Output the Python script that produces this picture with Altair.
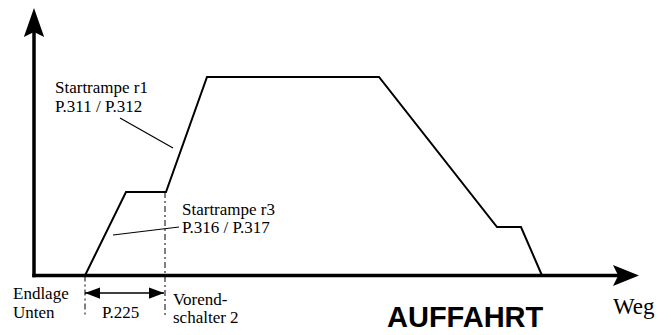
import altair as alt
import pandas as pd

# ---- data (units: path along x, speed along y; origin at the axes' corner) ----
profile_x = [51, 92, 132, 173, 345, 463, 487, 508]
profile_y = [0, 83.5, 83.5, 198.5, 198.5, 48.5, 48.5, 0]

axis_x1 = [-1.75, 0]
axis_y1 = [0, -1.75]
axis_x2 = [590, 0]
axis_y2 = [0, 245]

dash_x = [51, 131]
dash_top = [0, 83.5]
dash_bottom = [-39.5, -39.5]

leader_x1 = [86, 79]
leader_y1 = [157.5, 40.5]
leader_x2 = [139, 145]
leader_y2 = [127.5, 48.5]

dim_x1 = [51]
dim_x2 = [130]
dim_y = [-17.5]

serif_labels = ["Startrampe r1", "P.311 / P.312", "Startrampe r3", "P.316 / P.317",
                "Endlage", "Unten", "P.225", "Vorend-", "schalter 2"]
serif_x = [21, 21, 148, 148, -21, -21, 68, 139, 139]
serif_y = [182.5, 163.5, 60.5, 42.5, -23.5, -42.5, -42.5, -29.5, -47.5]

weg_label = ["Weg"]
weg_x = [579]
weg_y = [-38.5]

title_label = ["AUFFAHRT"]
title_x = [353]
title_y = [-51.5]

# arrowheads: axis arrows and dimension arrows
ah_x = [0, 592]
ah_y = [253, 0]
dim_head_x = [58.5, 122.5]
dim_head_y = [-17.5, -17.5]

SERIF = "'Times New Roman', 'Liberation Serif', serif"

# ---- scales ----
xs = alt.Scale(domain=[-26, 629], nice=False, zero=False)
ys = alt.Scale(domain=[-59.5, 267.5], nice=False, zero=False)


def X(f="x"):
    return alt.X(f"{f}:Q", scale=xs, axis=None)


def Y(f="y"):
    return alt.Y(f"{f}:Q", scale=ys, axis=None)


prof_df = pd.DataFrame({"x": profile_x, "y": profile_y, "o": list(range(len(profile_x)))})
profile = alt.Chart(prof_df).mark_line(color="black", strokeWidth=2).encode(
    x=X(), y=Y(), order="o:Q")

axes_df = pd.DataFrame({"x": axis_x1, "y": axis_y1, "x2": axis_x2, "y2": axis_y2})
axes = alt.Chart(axes_df).mark_rule(color="black", strokeWidth=3.5).encode(
    x=X(), y=Y(), x2="x2:Q", y2="y2:Q")

dash_df = pd.DataFrame({"x": dash_x, "y": dash_top, "y2": dash_bottom})
dashes = alt.Chart(dash_df).mark_rule(color="black", strokeWidth=1, strokeDash=[6, 3, 2, 3]).encode(
    x=X(), y=Y(), y2="y2:Q")

lead_df = pd.DataFrame({"x": leader_x1, "y": leader_y1, "x2": leader_x2, "y2": leader_y2})
leaders = alt.Chart(lead_df).mark_rule(color="black", strokeWidth=1.2).encode(
    x=X(), y=Y(), x2="x2:Q", y2="y2:Q")

dim_df = pd.DataFrame({"x": dim_x1, "x2": dim_x2, "y": dim_y})
dim_line = alt.Chart(dim_df).mark_rule(color="black", strokeWidth=1.5).encode(
    x=X(), x2="x2:Q", y=Y())

up_head = alt.Chart(pd.DataFrame({"x": ah_x[:1], "y": ah_y[:1]})).mark_point(
    shape="M0,-1 L0.7,1 L0,0.65 L-0.7,1 Z", filled=True, size=841, color="black", opacity=1,
    strokeWidth=0).encode(x=X(), y=Y())
right_head = alt.Chart(pd.DataFrame({"x": ah_x[1:], "y": ah_y[1:]})).mark_point(
    shape="M1,0 L-1,0.8 L-0.6,0 L-1,-0.8 Z", filled=True, size=676, color="black", opacity=1,
    strokeWidth=0).encode(x=X(), y=Y())

dl_head = alt.Chart(pd.DataFrame({"x": dim_head_x[:1], "y": dim_head_y[:1]})).mark_point(
    shape="M-1,0 L1,-0.75 L1,0.75 Z", filled=True, size=225, color="black", opacity=1,
    strokeWidth=0).encode(x=X(), y=Y())
dr_head = alt.Chart(pd.DataFrame({"x": dim_head_x[1:], "y": dim_head_y[1:]})).mark_point(
    shape="M1,0 L-1,-0.75 L-1,0.75 Z", filled=True, size=225, color="black", opacity=1,
    strokeWidth=0).encode(x=X(), y=Y())

serif_df = pd.DataFrame({"x": serif_x, "y": serif_y, "t": serif_labels})
serif_text = alt.Chart(serif_df).mark_text(
    font=SERIF, fontSize=17, color="black", align="left", baseline="alphabetic").encode(
    x=X(), y=Y(), text="t:N")

weg_df = pd.DataFrame({"x": weg_x, "y": weg_y, "t": weg_label})
weg_text = alt.Chart(weg_df).mark_text(
    font=SERIF, fontSize=23, color="black", align="left", baseline="alphabetic").encode(
    x=X(), y=Y(), text="t:N")

title_df = pd.DataFrame({"x": title_x, "y": title_y, "t": title_label})
title_text = alt.Chart(title_df).mark_text(
    font="'Liberation Sans', Arial, sans-serif", fontSize=29, fontWeight="bold", color="black",
    align="left", baseline="alphabetic").encode(x=X(), y=Y(), text="t:N")

chart = alt.layer(
    dashes, leaders, dim_line, profile, axes, up_head, right_head, dl_head, dr_head,
    serif_text, weg_text, title_text
).properties(
    width=655, height=327, autosize=alt.AutoSizeParams(type="none"), padding=0,
    background="white"
).configure_view(stroke=None)

chart.save("out.html", embed_options={"renderer": "svg", "actions": False})
